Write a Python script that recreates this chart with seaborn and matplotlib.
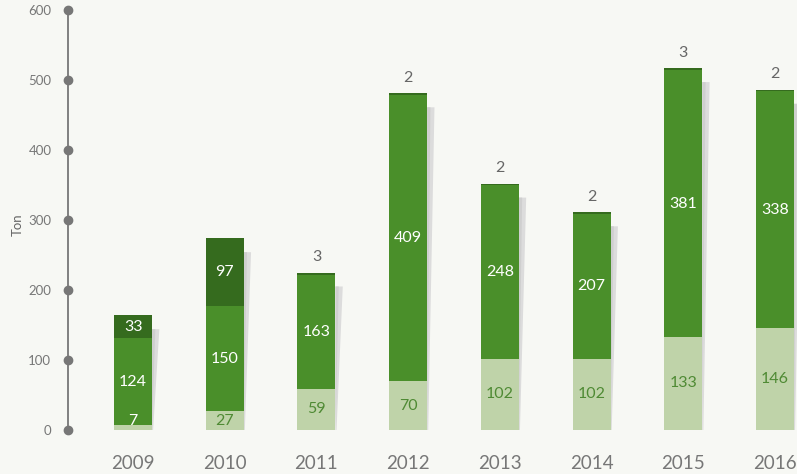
import numpy as np
import pandas as pd
import matplotlib
matplotlib.use("Agg")
import matplotlib.pyplot as plt
import seaborn as sns

# Data
years = ["2009", "2010", "2011", "2012", "2013", "2014", "2015", "2016"]
light = [7, 27, 59, 70, 102, 102, 133, 146]
mid = [124, 150, 163, 409, 248, 207, 381, 338]
dark = [33, 97, 3, 2, 2, 2, 3, 2]
yticks = [0, 100, 200, 300, 400, 500, 600]

BG = "#f7f8f4"
C_LIGHT = "#bfd3a9"
C_MID = "#4a8f2a"
C_DARK = "#356b1e"
GRAY = "#777777"

sns.set_style("white")
plt.rcParams['font.family'] = ['Lato', 'DejaVu Sans']

df = pd.DataFrame({"year": years, "light": light, "mid": mid, "dark": dark})
df["base2"] = df["light"] + df["mid"]
df["total"] = df["base2"] + df["dark"]

fig = plt.figure(figsize=(7.97, 4.74), dpi=100, facecolor=BG)
ax = fig.add_axes([68 / 797, 44 / 474, 1 - 68 / 797, 420 / 474])
ax.set_facecolor(BG)

width = 0.414
x = np.arange(len(years))

# shadows behind bars
sw = 0.08
for i, t in enumerate(df["total"]):
    r = i + width / 2
    top = t - 20
    ax.fill([r, r + sw, r + sw * 0.15, r], [top, top, 0, 0], color="#dcdcdc", lw=0, zorder=1)
    ax.fill([r, r + sw * 0.45, r, r], [top, top, 0, 0], color="#cfcfcf", lw=0, zorder=1)

bar_kw = dict(width=width, saturation=1, ax=ax, zorder=2, linewidth=0, edgecolor="none")
sns.barplot(data=df, x="year", y="light", color=C_LIGHT, **bar_kw)
sns.barplot(data=df, x="year", y="mid", bottom=df["light"], color=C_MID, **bar_kw)
sns.barplot(data=df, x="year", y="dark", bottom=df["base2"], color=C_DARK, **bar_kw)

# labels
fs = 11.5
for i in range(len(years)):
    lv, mv, dv = light[i], mid[i], dark[i]
    if lv < 15:
        ax.text(i, 13, str(lv), ha="center", va="center", color="white", fontsize=fs, zorder=3)
    else:
        ax.text(i, lv / 2, str(lv), ha="center", va="center", color="#4f8a34", fontsize=fs, zorder=3)
    ax.text(i, lv + mv / 2, str(mv), ha="center", va="center", color="white", fontsize=fs, zorder=3)
    if dv >= 20:
        ax.text(i, lv + mv + dv / 2, str(dv), ha="center", va="center", color="white", fontsize=fs, zorder=3)
    else:
        ax.text(i, lv + mv + dv + 22, str(dv), ha="center", va="center", color="#666666", fontsize=fs, zorder=3)

ax.set_ylim(0, 600)
ax.set_xlim(-0.709, 7.24)
for s in ["top", "right", "bottom"]:
    ax.spines[s].set_visible(False)
ax.spines["left"].set_color(GRAY)
ax.spines["left"].set_linewidth(1.3)

xmin = ax.get_xlim()[0]
ax.plot([xmin] * len(yticks), yticks, "o", color=GRAY, ms=6, clip_on=False, zorder=4)
ax.set_yticks(yticks)
ax.set_yticklabels([str(t) for t in yticks], color=GRAY, fontsize=9.5)
ax.tick_params(axis="y", length=0, pad=12)
ax.tick_params(axis="x", length=0, pad=18)
ax.set_xticks(x)
ax.set_xticklabels(years, color=GRAY, fontsize=13.5)
ax.set_xlabel("")
ax.set_ylabel("")
fig.text(18 / 797, 1 - 225 / 474, "Ton", rotation=90, ha="center", va="center", color="#666666", fontsize=9.5)

fig.savefig("out.png", dpi=100, facecolor=BG)
